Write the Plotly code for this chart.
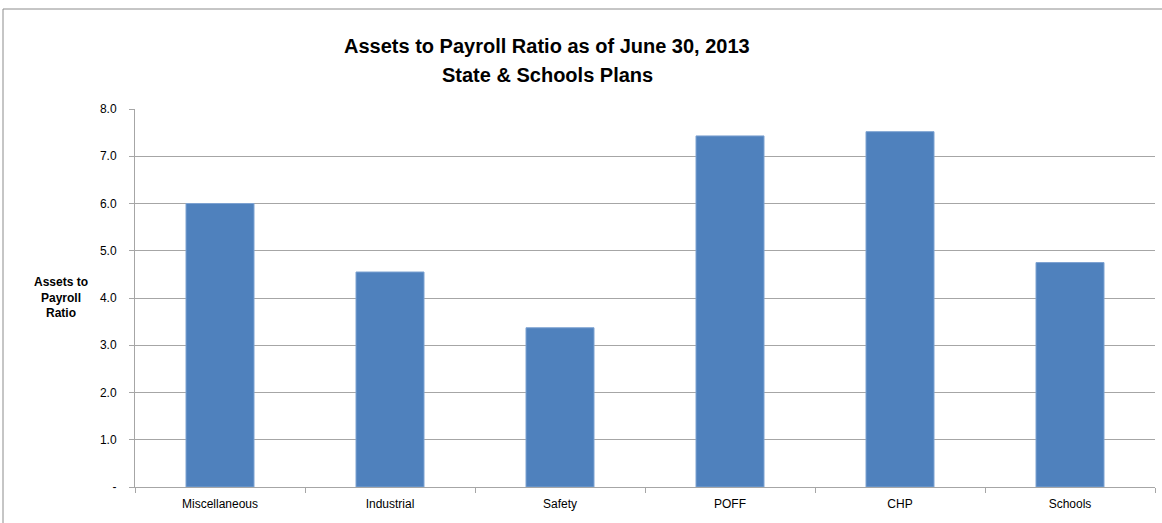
import plotly.graph_objects as go

categories = ["Miscellaneous", "Industrial", "Safety", "POFF", "CHP", "Schools"]
values = [6.00, 4.55, 3.37, 7.43, 7.52, 4.75]
y_tickvals = [0, 1, 2, 3, 4, 5, 6, 7, 8]
y_ticktext = ["-", "1.0", "2.0", "3.0", "4.0", "5.0", "6.0", "7.0", "8.0"]

W, H = 1162, 523
ML, MR, MT, MB = 135, 7, 109, 36
pw, ph = W - ML - MR, H - MT - MB

def px(x):
    return (x - ML) / pw

def py(y):
    return (H - MB - y) / ph

font_family = "Liberation Sans Narrow, Arial Narrow, Liberation Sans, Arial, sans-serif"
grid_col = "#a6a6a6"

fig = go.Figure(go.Bar(
    x=categories, y=values, width=0.4,
    marker=dict(color="#4F81BD", line=dict(color="#7da2d1", width=1)),
))

fig.update_layout(
    width=W, height=H,
    margin=dict(l=ML, r=MR, t=MT, b=MB),
    paper_bgcolor="white", plot_bgcolor="white",
    showlegend=False,
    font=dict(family=font_family, color="#000000", size=12),
    bargap=0.6,
    xaxis=dict(
        type="category", showgrid=False, showline=True, linecolor=grid_col, linewidth=1,
        ticks="outside", tickson="boundaries", ticklen=5, tickcolor=grid_col,
        tickfont=dict(size=12, family=font_family), ticklabelstandoff=6,
    ),
    yaxis=dict(
        range=[0, 8], tickvals=y_tickvals, ticktext=y_ticktext,
        showgrid=True, gridcolor=grid_col, gridwidth=1,
        showline=True, linecolor=grid_col, linewidth=1,
        ticks="outside", ticklen=5, tickcolor=grid_col,
        tickfont=dict(size=12, family=font_family), ticklabelstandoff=10,
        zeroline=False,
    ),
    annotations=[
        dict(text="<b>Assets to Payroll Ratio as of June 30, 2013</b>",
             x=px(547), y=py(46), xref="paper", yref="paper", showarrow=False,
             font=dict(size=20, family=font_family), xanchor="center", yanchor="middle"),
        dict(text="<b>State &amp; Schools Plans</b>",
             x=px(547), y=py(75), xref="paper", yref="paper", showarrow=False,
             font=dict(size=20, family=font_family), xanchor="center", yanchor="middle"),
        dict(text="<b>Assets to<br>Payroll<br>Ratio</b>",
             x=px(61), y=py(297), xref="paper", yref="paper", showarrow=False,
             font=dict(size=12, family=font_family), xanchor="center", yanchor="middle",
             align="center"),
    ],
    shapes=[
        dict(type="line", xref="paper", yref="paper", x0=px(3), x1=px(1162), y0=py(9), y1=py(9),
             line=dict(color="#8c8c8c", width=1)),
        dict(type="line", xref="paper", yref="paper", x0=px(3), x1=px(3), y0=py(9), y1=py(523),
             line=dict(color="#8c8c8c", width=1)),
    ],
)

fig.write_html("out.html")
